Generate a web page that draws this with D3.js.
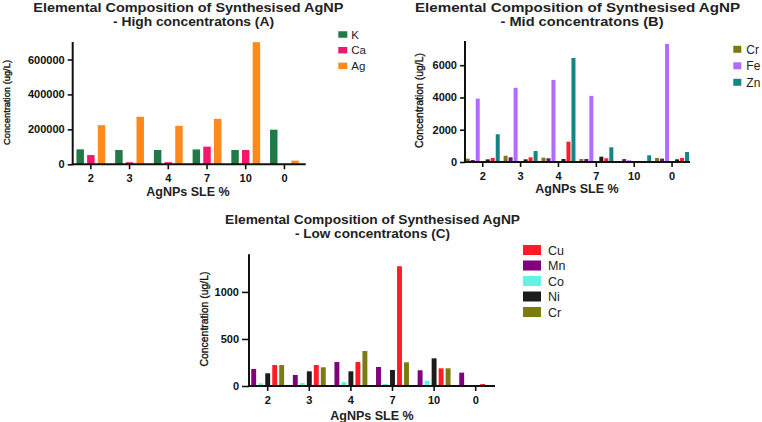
<!DOCTYPE html>
<html><head><meta charset="utf-8">
<script src="https://cdn.jsdelivr.net/npm/d3@7"></script>
<style>
html,body{margin:0;padding:0;background:#fff;}
svg{display:block;font-family:"Liberation Sans",Arial,sans-serif;}
</style></head>
<body><svg id="c" width="762" height="422"></svg>
<script>
const categories = ["2","3","4","7","10","0"];

// Panel A – high concentrations
const seriesA = ["K","Ca","Ag"];
const K  = [85500, 82000, 82000, 85000, 82000, 198000];
const Ca = [53000, 12000, 12000, 101000, 82000, 0];
const Ag = [224000, 272000, 220000, 260000, 699000, 21000];
const ticksA = [0, 200000, 400000, 600000];

// Panel B – mid concentrations (bars in plotting order)
const seriesB = ["Cr","Mn","Fe","Co","Ni","Cu","Zn"];
const legendB = ["Cr","Fe","Zn"];
const CrB = [210, 390, 270, 185, 0, 250];
const MnB = [125, 290, 230, 185, 180, 210];
const FeB = [3930, 4600, 5090, 4100, 110, 7320];
const CoB = [0, 0, 0, 0, 0, 0];
const NiB = [165, 165, 185, 330, 0, 165];
const CuB = [250, 290, 1260, 230, 0, 250];
const ZnB = [1720, 680, 6450, 910, 415, 620];
const ticksB = [0, 2000, 4000, 6000];

// Panel C – low concentrations (bars in plotting order)
const seriesC = ["Mn","Co","Ni","Cu","Cr"];
const legendC = ["Cu","Mn","Co","Ni","Cr"];
const MnC = [181, 117, 255, 202, 167, 142];
const CoC = [28, 32, 43, 21, 57, 0];
const NiC = [135, 156, 156, 170, 294, 0];
const CuC = [223, 223, 255, 1273, 188, 21];
const CrC = [223, 199, 372, 252, 188, 0];
const ticksC = [0, 500, 1000];

const colors = {K:"#1f7a48", Ca:"#f5176b", Ag:"#ff8a1c",
  Cr:"#7b7b10", Mn:"#6e0f7a", Fe:"#b36bff", Co:"#62f2e4", Ni:"#1c1c1c", Cu:"#ff1c24", Zn:"#148585"};
const colorsC = Object.assign({}, colors, {Mn:"#800080"});

const svg = d3.select("#c");

function panel(p){
  const g = svg.append("g");
  const x = d3.scaleBand().domain(categories).range(p.xr);
  const xs = d3.scaleBand().domain(p.series).range([-p.half, p.half]).paddingInner(p.pin).paddingOuter(p.pout);
  const y = d3.scaleLinear().domain([0, p.ymax]).range([p.y0, p.y1]);
  const rows = categories.map((c,i)=>({c, vals:p.series.map(s=>({s, v:p.data[s][i]}))}));
  g.selectAll("g.grp").data(rows).join("g")
    .attr("transform", d=>`translate(${x(d.c)+x.bandwidth()/2},0)`)
    .selectAll("rect").data(d=>d.vals.filter(v=>v.v>0)).join("rect")
    .attr("x", d=>xs(d.s)).attr("width", xs.bandwidth())
    .attr("y", d=>y(d.v)).attr("height", d=>y(0)-y(d.v))
    .attr("fill", d=>p.colors[d.s]);
  // y axis
  const ya = d3.axisLeft(y).tickValues(p.ticks).tickSize(p.tsize).tickPadding(p.tpad).tickFormat(d3.format("d"));
  const yg = g.append("g").attr("transform",`translate(${p.ax},0)`).call(ya);
  yg.select(".domain").remove();
  yg.selectAll("line").attr("stroke","#111").attr("stroke-width",1.6);
  yg.selectAll("text").attr("font-size",p.tfs).attr("font-weight","bold").attr("fill","#111");
  g.append("line").attr("x1",p.ax).attr("x2",p.ax).attr("y1",p.y1).attr("y2",p.y0+0.8).attr("stroke","#111").attr("stroke-width",2);
  // x axis
  const xa = d3.axisBottom(x).tickSize(5).tickPadding(5);
  const xg = g.append("g").attr("transform",`translate(0,${p.y0})`).call(xa);
  xg.select(".domain").remove();
  xg.selectAll("line").attr("stroke","#111").attr("stroke-width",1.6);
  xg.selectAll("text").attr("font-size",p.tfs).attr("font-weight","bold").attr("fill","#111");
  g.append("line").attr("x1",p.ax-1).attr("x2",p.xend).attr("y1",p.y0).attr("y2",p.y0).attr("stroke","#111").attr("stroke-width",2);
  // titles
  g.append("text").attr("x",p.tx).attr("y",p.t1).attr("text-anchor","middle").attr("font-weight","bold")
    .attr("font-size",p.tsz).attr("fill","#222").attr("textLength",p.tw1).attr("lengthAdjust","spacingAndGlyphs")
    .text("Elemental Composition of Synthesised AgNP");
  g.append("text").attr("x",p.tx2).attr("y",p.t2).attr("text-anchor","middle").attr("font-weight","bold")
    .attr("font-size",p.tsz).attr("fill","#222").attr("textLength",p.tw2).attr("lengthAdjust","spacingAndGlyphs")
    .text(p.sub);
  g.append("text").attr("x",p.xlx).attr("y",p.xly).attr("text-anchor","middle").attr("font-weight","bold")
    .attr("font-size",12.5).attr("fill","#222").text("AgNPs SLE %");
  g.append("text").attr("transform",`translate(${p.ylx},${p.yly}) rotate(-90)`).attr("text-anchor","middle")
    .attr("font-size",p.ylfs).attr("fill","#111").attr("stroke","#111").attr("stroke-width",0.35)
    .attr("textLength",p.ylw).attr("lengthAdjust","spacingAndGlyphs").text("Concentration (ug/L)");
  // legend
  const lg = g.selectAll("g.leg").data(p.legend).join("g")
    .attr("transform",(d,i)=>`translate(${p.lx},${p.ly + i*p.lstep})`);
  lg.append("rect").attr("x",0).attr("y",-p.lh/2).attr("width",p.lw).attr("height",p.lh).attr("fill",d=>p.colors[d]);
  lg.append("text").attr("x",p.lw+p.lgap).attr("y",0).attr("dy","0.36em").attr("font-size",p.lfs).attr("fill","#222").text(d=>d);
}

panel({series:seriesA, data:{K,Ca,Ag}, colors, ymax:700000, ticks:ticksA,
  xr:[71.5,303.8], half:16, pin:0.3, pout:0.15, y0:164.3, y1:42, ax:72.7, xend:305.7,
  tsize:5, tpad:3, tfs:11, tsz:13, tx:188.3, t1:12, tx2:193.5, t2:26, tw1:310, tw2:161, sub:"- High concentratons (A)",
  xlx:188, xly:196, ylx:9.5, yly:102.5, ylfs:9.5, ylw:85,
  legend:seriesA, lx:338.3, ly:34.5, lstep:15.7, lw:9, lh:6.5, lgap:4, lfs:11.5});

panel({series:seriesB, data:{Cr:CrB,Mn:MnB,Fe:FeB,Co:CoB,Ni:NiB,Cu:CuB,Zn:ZnB}, colors, ymax:7500, ticks:ticksB,
  xr:[463.8,691], half:17.5, pin:0.2, pout:0.1, y0:162, y1:41, ax:465, xend:690,
  tsize:5, tpad:3, tfs:11, tsz:13.6, tx:577.5, t1:12, tx2:582, t2:26, tw1:325, tw2:163, sub:"- Mid concentratons (B)",
  xlx:577, xly:193, ylx:422.5, yly:100.5, ylfs:10.5, ylw:95,
  legend:legendB, lx:733.3, ly:49.3, lstep:16.5, lw:8, lh:7, lgap:5, lfs:12});

panel({series:seriesC, data:{Mn:MnC,Co:CoC,Ni:NiC,Cu:CuC,Cr:CrC}, colors:colorsC, ymax:1400, ticks:ticksC,
  xr:[246.9,496.5], half:17.5, pin:0.3, pout:0.15, y0:386, y1:254.3, ax:249, xend:495,
  tsize:7, tpad:3, tfs:11, tsz:12.6, tx:372.5, t1:223.5, tx2:372.5, t2:237.5, tw1:295, tw2:155, sub:"- Low concentratons (C)",
  xlx:372, xly:420, ylx:207.5, yly:319, ylfs:10.5, ylw:95,
  legend:legendC, lx:523, ly:250, lstep:15.5, lw:18, lh:10, lgap:7, lfs:12.5});
</script>
</body></html>
